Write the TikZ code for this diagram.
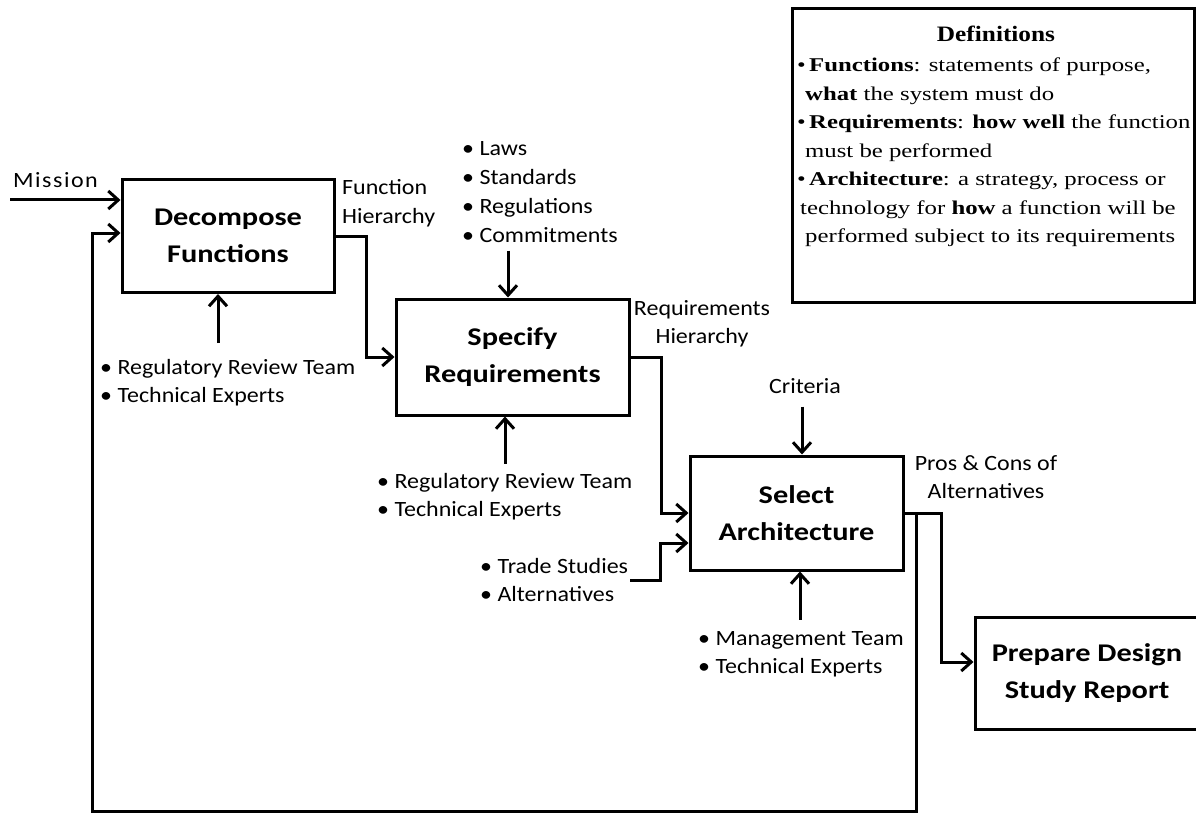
\documentclass[tikz,border=0pt]{standalone}
\usepackage{fontspec}
\setmainfont{Carlito}[FakeStretch=1.1]
\newfontfamily\boxfam{Carlito}[FakeStretch=1.19]
\newfontfamily\serfam{Liberation Serif}[FakeStretch=1.27]
\newfontfamily\serttl{Liberation Serif}[FakeStretch=1.15]
\usetikzlibrary{arrows.meta}
\newcommand{\txtrows}[2]{\begin{tabular}[t]{@{}#1@{}}#2\end{tabular}}
\begin{document}
\begin{tikzpicture}[x=1pt,y=-1pt,
  box/.style={draw, line width=3pt, inner sep=0pt, align=center,
    font=\boxfam\bfseries\fontsize{25.5pt}{37pt}\selectfont},
  lbl/.style={inner sep=0pt, font=\fontsize{21.8pt}{28.7pt}\selectfont},
  arr/.style={line width=3pt, -{Straight Barb[length=10pt,width=18pt]}},
  ]
\useasboundingbox (0,0) rectangle (1196,813);

% process boxes
\node[box, minimum width=212pt, minimum height=113pt] (dec) at (228,236) {Decompose\\Functions};
\node[box, minimum width=233pt, minimum height=116pt] (spec) at (512.5,357) {Specify\\Requirements};
\node[box, minimum width=213pt, minimum height=114pt] (sel) at (796.5,513) {Select\\Architecture};
\node[box, minimum width=224pt, minimum height=112pt] (pre) at (1087,673) {Prepare Design\\Study Report};

% definitions box
\node[draw, line width=3pt, minimum width=402pt, minimum height=293pt, inner sep=0pt] (defs) at (993,155.5) {};
\node[anchor=base, inner sep=0pt, font=\serttl\bfseries\fontsize{22pt}{28pt}\selectfont] (dtitle) at (996,42) {Definitions};
\node[anchor=base west, inner sep=0pt, font=\serfam\fontsize{19.5pt}{28.5pt}\selectfont] (dtext) at (797,72)
  {\txtrows{l}{•\,\textbf{Functions}: statements of purpose,\\
  \hspace*{8pt}\textbf{what} the system must do\\
  •\,\textbf{Requirements}: \textbf{how well} the function\\
  \hspace*{8pt}must be performed\\
  •\,\textbf{Architecture}: a strategy, process or\\
  \hspace*{3pt}technology for \textbf{how} a function will be\\
  \hspace*{8pt}performed subject to its requirements}};

% labels
\node[lbl, anchor=base west] (mis) at (13,188) {\addfontfeatures{LetterSpace=7}Mission};
\node[lbl, anchor=base west] (fh) at (342,195) {\txtrows{l}{Function\\Hierarchy}};
\node[lbl, anchor=base west] (laws) at (462,156) {\txtrows{l}{• Laws\\• Standards\\• Regulations\\• Commitments}};
\node[lbl, anchor=base] (rh) at (702,315) {\txtrows{c}{Requirements\\Hierarchy}};
\node[lbl, anchor=base west] (dtm) at (100,374) {\txtrows{l}{• Regulatory Review Team\\• Technical Experts}};
\node[lbl, anchor=base west] (stm) at (377,488) {\txtrows{l}{• Regulatory Review Team\\• Technical Experts}};
\node[lbl, anchor=base] (cri) at (805,393) {Criteria};
\node[lbl, anchor=base west] (tr) at (480,573) {\txtrows{l}{• Trade Studies\\• Alternatives}};
\node[lbl, anchor=base west] (mg) at (698,645) {\txtrows{l}{• Management Team\\• Technical Experts}};
\node[lbl, anchor=base] (pc) at (986,470) {\txtrows{c}{Pros \& Cons of\\Alternatives}};

% free ends
\coordinate (ms) at (10,200);
\coordinate (trs) at (630,580);
\coordinate (fbc) at (92,811);

% connectors
\draw[arr] (ms) -- (ms -| dec.west);
\draw[arr] (dec.east) -- ++(31,0) |- (spec.west);
\draw[arr] (spec.east) -- ++(31,0) |- (sel.west);
\draw[arr] (trs) -- ++(30,0) |- ([yshift=-30pt]sel.west);
\draw[arr] (sel.east) -- ++(37,0) |- ([yshift=11pt]pre.west);
\draw[arr] ([xshift=12pt]sel.east) |- (fbc) |- ([yshift=3pt]dec.west);

\draw[arr] ([xshift=-10pt,yshift=-49pt]dec.south) -- ([xshift=-10pt]dec.south);
\draw[arr] ([xshift=-4.5pt,yshift=47pt]spec.north) -- ([xshift=-4.5pt]spec.north);
\draw[arr] ([xshift=-7.5pt,yshift=-47pt]spec.south) -- ([xshift=-7.5pt]spec.south);
\draw[arr] ([xshift=5.5pt,yshift=48pt]sel.north) -- ([xshift=5.5pt]sel.north);
\draw[arr] ([xshift=3.5pt,yshift=-48pt]sel.south) -- ([xshift=3.5pt]sel.south);
\end{tikzpicture}
\end{document}
